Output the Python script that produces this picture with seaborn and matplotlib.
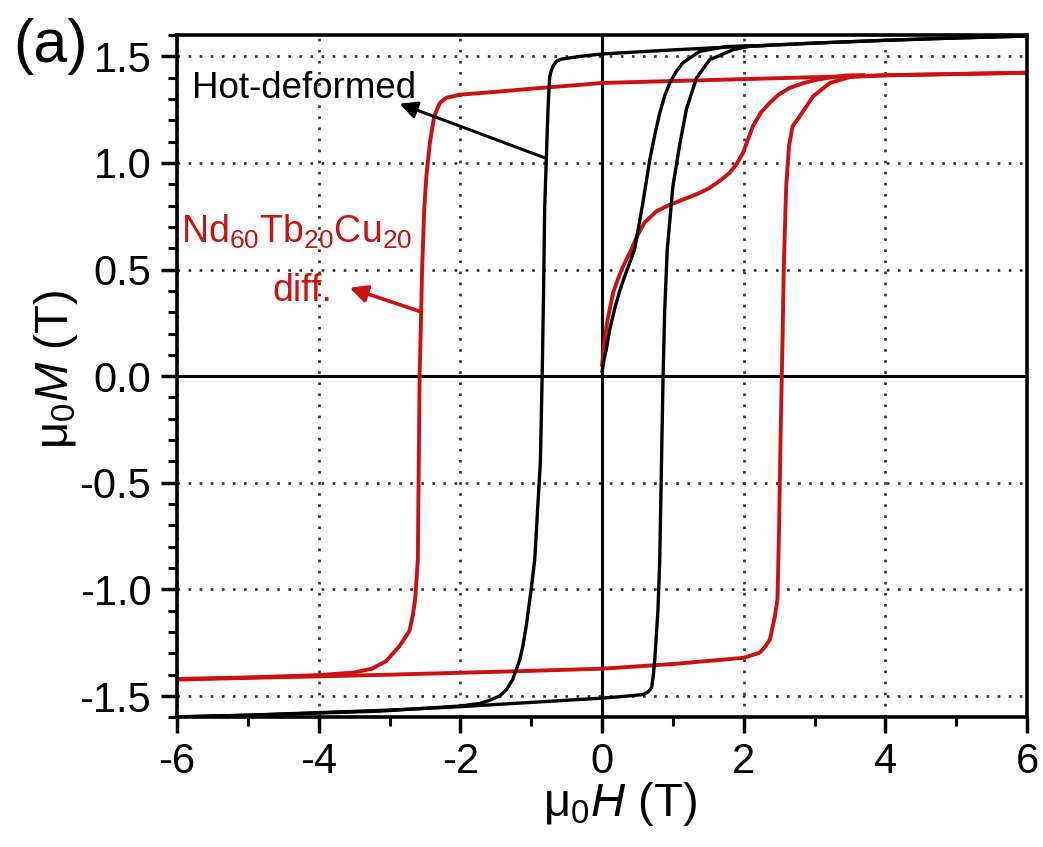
import numpy as np
import pandas as pd
import matplotlib
matplotlib.use("Agg")
import matplotlib.pyplot as plt
from matplotlib.ticker import MultipleLocator
import seaborn as sns

# ---- Hot-deformed magnet: demagnetisation loop (field H in T, polarisation M in T)
hd_desc_H = [6.0, 5.0, 4.0, 3.0, 2.0, 1.0, 0.0, -0.3, -0.57, -0.64, -0.69, -0.72, -0.74,
             -0.763, -0.787, -0.81, -0.825, -0.845, -0.87, -0.95, -1.0, -1.07, -1.12, -1.16,
             -1.26, -1.35, -1.445, -1.6, -1.73, -2.0, -3.14, -4.0, -5.0, -6.0]
hd_desc_M = [1.595, 1.586, 1.575, 1.562, 1.547, 1.530, 1.511, 1.500, 1.487, 1.478, 1.455, 1.43, 1.40,
             1.25, 1.015, 0.78, 0.40, 0.0, -0.40, -0.86, -1.0, -1.172, -1.27, -1.329,
             -1.422, -1.47, -1.50, -1.522, -1.535, -1.547, -1.571, -1.58, -1.59, -1.598]

hd_asc_H = [-6.0, -5.0, -4.0, -3.0, -2.0, -1.0, 0.0, 0.3, 0.58, 0.65, 0.70, 0.725, 0.745,
            0.77, 0.79, 0.815, 0.84, 0.862, 0.884, 0.92, 1.0, 1.093, 1.19, 1.333, 1.52,
            1.85, 2.09, 3.0, 4.0, 5.0, 6.0]
hd_asc_M = [-1.598, -1.59, -1.578, -1.566, -1.55, -1.53, -1.51, -1.502, -1.493, -1.482, -1.461, -1.40, -1.329,
            -1.20, -1.094, -0.86, -0.40, 0.0, 0.30, 0.59, 0.89, 1.078, 1.25, 1.398, 1.484,
            1.531, 1.547, 1.562, 1.575, 1.586, 1.595]

hd_init_H = [0.0, 0.03, 0.06, 0.11, 0.175, 0.25, 0.32, 0.40, 0.46, 0.50, 0.57, 0.674,
             0.75, 0.815, 0.89, 0.956, 1.05, 1.14, 1.376, 1.756, 2.3]
hd_init_M = [0.02, 0.08, 0.125, 0.22, 0.312, 0.40, 0.468, 0.54, 0.594, 0.67, 0.80, 1.015,
             1.14, 1.234, 1.32, 1.375, 1.43, 1.469, 1.523, 1.546, 1.55]

# ---- Nd60Tb20Cu20 diffusion-processed magnet
df_desc_H = [6.0, 5.0, 4.0, 3.0, 2.0, 1.0, 0.0, -0.32, -1.0, -1.445, -2.01, -2.2, -2.29,
             -2.37, -2.43, -2.48, -2.51, -2.54, -2.56, -2.575, -2.59, -2.6, -2.638, -2.67,
             -2.72, -2.86, -3.05, -3.25, -3.5, -4.0, -5.0, -6.0]
df_desc_M = [1.423, 1.417, 1.411, 1.402, 1.393, 1.384, 1.375, 1.366, 1.348, 1.335, 1.32, 1.305, 1.281,
             1.218, 1.094, 0.937, 0.78, 0.50, 0.20, 0.0, -0.50, -0.86, -1.047, -1.12,
             -1.196, -1.266, -1.337, -1.372, -1.39, -1.402, -1.413, -1.42]

df_asc_H = [-6.0, -5.0, -4.0, -3.0, -2.0, -1.0, 0.0, 1.0, 2.0, 2.225, 2.30, 2.37, 2.44,
            2.477, 2.50, 2.52, 2.55, 2.565, 2.60, 2.64, 2.69, 2.79, 2.98, 3.216, 3.5,
            4.0, 5.0, 6.0]
df_asc_M = [-1.423, -1.415, -1.408, -1.40, -1.391, -1.382, -1.372, -1.35, -1.321, -1.297, -1.27, -1.235, -1.126,
            -1.047, -0.70, -0.30, 0.20, 0.50, 0.89, 1.08, 1.172, 1.218, 1.312, 1.375, 1.403,
            1.411, 1.417, 1.423]

df_init_H = [0.0, 0.03, 0.07, 0.155, 0.23, 0.297, 0.415, 0.50, 0.60, 0.768, 0.95, 1.144,
             1.35, 1.52, 1.68, 1.80, 1.90, 1.99, 2.06, 2.13, 2.24, 2.365, 2.5, 2.65,
             2.85, 3.03, 3.25, 3.45, 3.7]
df_init_M = [0.05, 0.15, 0.25, 0.39, 0.46, 0.515, 0.594, 0.66, 0.72, 0.773, 0.803, 0.828,
             0.855, 0.883, 0.92, 0.953, 0.995, 1.047, 1.11, 1.172, 1.235, 1.281, 1.322, 1.352,
             1.375, 1.39, 1.402, 1.41, 1.412]

x_ticks = [-6, -4, -2, 0, 2, 4, 6]
y_ticks = [-1.5, -1.0, -0.5, 0.0, 0.5, 1.0, 1.5]

RED = "#cc1111"
BLACK = "black"


def branch_frame(pairs):
    frames = []
    for name, (h, m) in pairs.items():
        frames.append(pd.DataFrame({"H": h, "M": m, "branch": name}))
    return pd.concat(frames, ignore_index=True)


hot = branch_frame({"desc": (hd_desc_H, hd_desc_M),
                    "asc": (hd_asc_H, hd_asc_M),
                    "init": (hd_init_H, hd_init_M)})
diff = branch_frame({"desc": (df_desc_H, df_desc_M),
                     "asc": (df_asc_H, df_asc_M),
                     "init": (df_init_H, df_init_M)})

sns.set_theme(style="ticks")
plt.rcParams["font.family"] = ["Liberation Sans", "DejaVu Sans"]
plt.rcParams["mathtext.fontset"] = "custom"
plt.rcParams["mathtext.rm"] = "Liberation Sans"
plt.rcParams["mathtext.it"] = "Liberation Sans:italic"
plt.rcParams["mathtext.default"] = "regular"

fig = plt.figure(figsize=(10.43, 8.47), dpi=100)
ax = fig.add_axes([0.1697, 0.1531, 0.8150, 0.8056])

ax.set_axisbelow(True)
ax.grid(True, which="major", linestyle=(0, (1, 3.2)), color="0.2", linewidth=1.9)
ax.axhline(0, color="black", lw=2.2, zorder=1.5)
ax.axvline(0, color="black", lw=2.2, zorder=1.5)

sns.lineplot(data=diff, x="H", y="M", units="branch", estimator=None, sort=False,
             color=RED, linewidth=2.8, ax=ax, zorder=2)
sns.lineplot(data=hot, x="H", y="M", units="branch", estimator=None, sort=False,
             color=BLACK, linewidth=2.4, ax=ax, zorder=3)

ax.set_xlim(-6, 6)
ax.set_ylim(-1.6, 1.6)
ax.set_xticks(x_ticks)
ax.set_xticklabels([f"{v:d}" for v in x_ticks])
ax.set_yticks(y_ticks)
ax.set_yticklabels([f"{v:.1f}" for v in y_ticks])
ax.xaxis.set_minor_locator(MultipleLocator(1))
ax.yaxis.set_minor_locator(MultipleLocator(0.1))

for side in ["left", "right", "top", "bottom"]:
    ax.spines[side].set_visible(True)
    ax.spines[side].set_linewidth(2.6)
    ax.spines[side].set_color("black")

ax.tick_params(which="major", direction="out", length=11.5, width=2.5, color="black",
               labelsize=30, labelcolor="black", top=False, right=False)
ax.tick_params(which="minor", direction="out", length=6.5, width=2.2, color="black",
               top=False, right=False)
ax.tick_params(axis="x", which="major", pad=6)
ax.tick_params(axis="y", which="major", pad=7)

ax.set_xlabel(r"μ$_0\mathit{H}$ (T)", fontsize=34, color="black")
ax.xaxis.set_label_coords(0.521, -0.092)
ax.set_ylabel(r"μ$_0\mathit{M}$ (T)", fontsize=34, color="black")
ax.yaxis.set_label_coords(-0.114, 0.5105)

# annotations
ax.text(-4.2, 1.305, "Hot-deformed", fontsize=26.5, color="black",
        ha="center", va="baseline")
ax.annotate("", xy=(-2.857, 1.278), xytext=(-0.809, 1.024),
            arrowprops=dict(arrowstyle="-|>", color="black", lw=2.2,
                            mutation_scale=26, shrinkA=0, shrinkB=0))

ax.text(-4.31, 0.626, r"Nd$_{60}$Tb$_{20}$Cu$_{20}$", fontsize=27, color=RED,
        ha="center", va="baseline")
ax.text(-4.23, 0.351, "diff.", fontsize=27, color=RED, ha="center", va="baseline")
ax.annotate("", xy=(-3.563, 0.414), xytext=(-2.575, 0.304),
            arrowprops=dict(arrowstyle="-|>", color=RED, lw=2.6,
                            mutation_scale=26, shrinkA=0, shrinkB=0))

fig.text(13 / 1043, 1 - 62 / 847, "(a)", fontsize=44, color="black",
         ha="left", va="baseline")

fig.savefig("out.png", dpi=100)
